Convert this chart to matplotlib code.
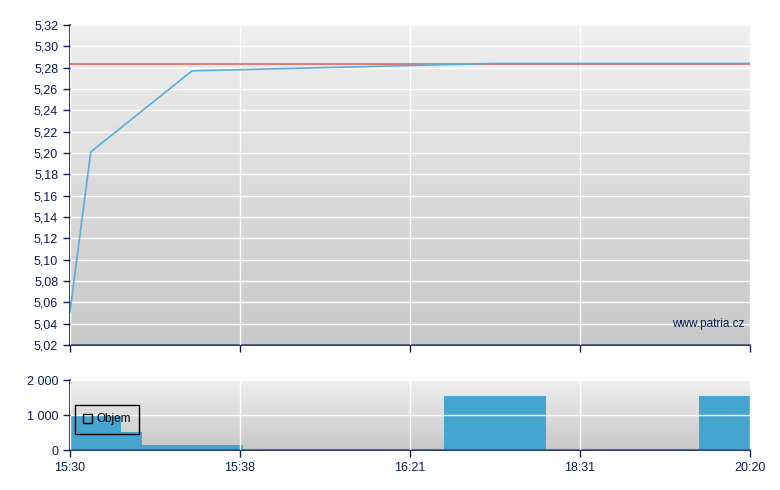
import numpy as np
import matplotlib
matplotlib.use('Agg')
import matplotlib.pyplot as plt
from matplotlib.patches import Patch

# data (x in tick-interval units)
pos = [0.0, 0.122, 0.718, 2.5, 4.0]
price = [5.051, 5.201, 5.277, 5.284, 5.284]
volume = [1000, 524, 143, 1543, 1543]
prev_close = 5.2838
tick_pos = [0, 1, 2, 3, 4]
tick_labels = ['15:30', '15:38', '16:21', '18:31', '20:20']
price_ticks = np.arange(5.02, 5.3201, 0.02)
vol_ticks = [0, 1000, 2000]

navy = '#0c1f4f'
plt.rcParams['font.family'] = ['Liberation Sans', 'DejaVu Sans']
plt.rcParams['font.size'] = 9

fig = plt.figure(figsize=(7.8, 4.9), dpi=100)
ax1 = fig.add_axes([70/780, 145/490, 680/780, 320/490])
ax2 = fig.add_axes([70/780, 40/490, 680/780, 70/490])

grad = np.linspace(0, 1, 256).reshape(-1, 1)
cmap = matplotlib.colors.LinearSegmentedColormap.from_list('bg', ['#efefef', '#c8c8c8'])

for ax in (ax1, ax2):
    ax.imshow(grad, cmap=cmap, aspect='auto', extent=[0, 1, 0, 1],
              transform=ax.transAxes, zorder=0)
    ax.set_xlim(0, 4)
    ax.set_xticks(tick_pos)
    for s in ['top', 'right']:
        ax.spines[s].set_visible(False)
    for s in ['left', 'bottom']:
        ax.spines[s].set_color(navy)
        ax.spines[s].set_linewidth(1.2)
    ax.tick_params(colors=navy, length=5, width=1, labelsize=9)
    ax.grid(True, color='white', linewidth=1.0, zorder=1)
    ax.set_axisbelow(False)

# price panel
ax1.set_ylim(5.02, 5.32)
ax1.set_yticks(price_ticks)
ax1.set_yticklabels([f'{v:.2f}'.replace('.', ',') for v in price_ticks])
ax1.set_xticklabels([])
ax1.axhline(prev_close, color='#e07070', linewidth=1.3, zorder=3)
ax1.plot(pos, price, color='#5aaed6', linewidth=1.2, zorder=4)
ax1.text(0.992, 0.065, 'www.patria.cz', transform=ax1.transAxes, ha='right',
         va='center', color=navy, fontsize=8.5, zorder=5)

# volume panel
ax2.set_ylim(0, 2000)
ax2.set_yticks(vol_ticks)
ax2.set_yticklabels(['0', '1 000', '2 000'])
ax2.set_xticklabels(tick_labels)
ax2.bar(pos, volume, width=0.6, color='#45a5cf', zorder=2)
leg = ax2.legend(handles=[Patch(facecolor='none', edgecolor='black', label='Objem')],
                 loc='upper left', bbox_to_anchor=(0.007, 0.643), borderaxespad=0,
                 fancybox=False, framealpha=1, handlelength=0.8, handleheight=0.8,
                 handletextpad=0.3, borderpad=0.7, fontsize=8.5)
leg.get_frame().set_facecolor('none')
leg.get_frame().set_edgecolor('black')
leg.set_zorder(6)

plt.savefig('out.png', dpi=100)
